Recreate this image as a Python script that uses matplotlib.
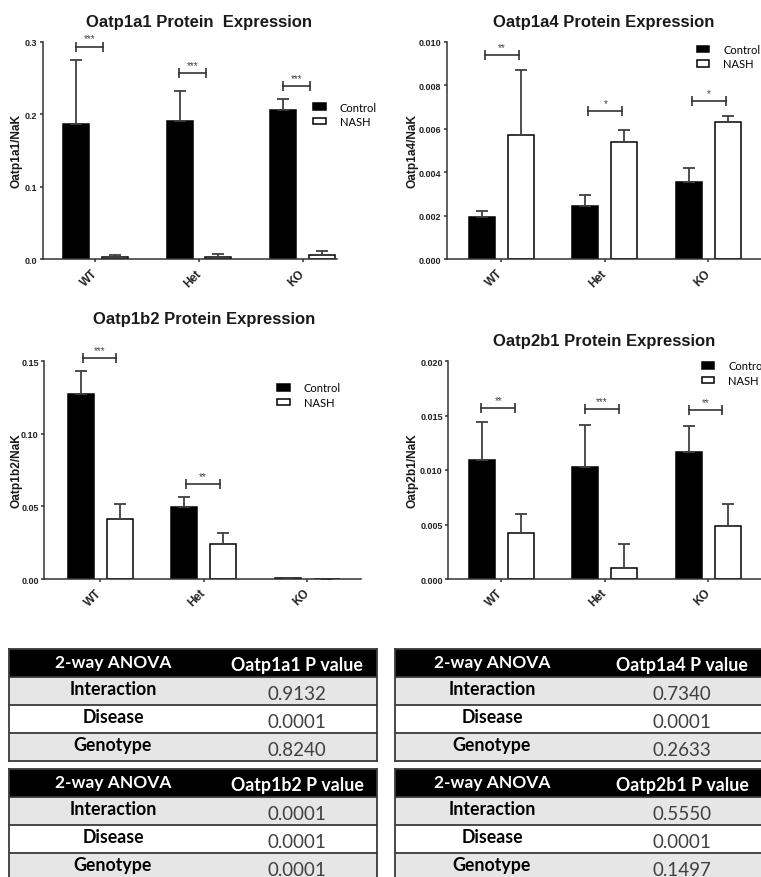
import numpy as np
import matplotlib.pyplot as plt
from matplotlib.patches import Patch
from matplotlib.ticker import FormatStrFormatter

plt.rcParams['font.family'] = ['Liberation Sans', 'DejaVu Sans']

groups = ["WT", "Het", "KO"]

# Oatp1a1 / NaK
oatp1a1_ctrl = [0.186, 0.190, 0.2055]
oatp1a1_ctrl_err = [0.089, 0.042, 0.015]
oatp1a1_nash = [0.0028, 0.0028, 0.0055]
oatp1a1_nash_err = [0.0035, 0.004, 0.0055]
oatp1a1_sig = ["***", "***", "***"]
oatp1a1_sig_y = [0.293, 0.2566, 0.2386]

# Oatp1a4 / NaK
oatp1a4_ctrl = [0.00193, 0.00247, 0.00357]
oatp1a4_ctrl_err = [0.00029, 0.00049, 0.00061]
oatp1a4_nash = [0.00571, 0.00538, 0.00629]
oatp1a4_nash_err = [0.00299, 0.00058, 0.00031]
oatp1a4_sig = ["**", "*", "*"]
oatp1a4_sig_y = [0.00939, 0.0068, 0.00726]

# Oatp1b2 / NaK
oatp1b2_ctrl = [0.127, 0.0498, 0.0006]
oatp1b2_ctrl_err = [0.0159, 0.0069, 0.0]
oatp1b2_nash = [0.0415, 0.0239, 0.0002]
oatp1b2_nash_err = [0.0099, 0.0080, 0.0]
oatp1b2_sig = ["***", "**", None]
oatp1b2_sig_y = [0.1519, 0.0652, None]

# Oatp2b1 / NaK
oatp2b1_ctrl = [0.01095, 0.0103, 0.01168]
oatp2b1_ctrl_err = [0.00345, 0.00383, 0.00239]
oatp2b1_nash = [0.00419, 0.00104, 0.00489]
oatp2b1_nash_err = [0.00174, 0.00217, 0.00196]
oatp2b1_sig = ["**", "***", "**"]
oatp2b1_sig_y = [0.01566, 0.0156, 0.0155]

# two-way ANOVA results
anova_rows = ["Interaction", "Disease", "Genotype"]
oatp1a1_p = ["0.9132", "0.0001", "0.8240"]
oatp1a4_p = ["0.7340", "0.0001", "0.2633"]
oatp1b2_p = ["0.0001", "0.0001", "0.0001"]
oatp2b1_p = ["0.5550", "0.0001", "0.1497"]

W, H = 761, 878
fig = plt.figure(figsize=(W / 100, H / 100), dpi=100)

DARK = "#333333"


def px_axes(left, top, right, bottom):
    return fig.add_axes([left / W, 1 - bottom / H, (right - left) / W, (bottom - top) / H])


def bar_panel(box, xlim, ymax, yticks, fmt, ctrl, ctrl_err, nash, nash_err,
              title, title_pos, ylabel, ylabel_x, sig, sig_y, span, legend_pos):
    ax = px_axes(*box)
    x = np.arange(len(groups))
    off, bw = 0.1875, 0.25
    ekw = dict(ecolor="#404040", elinewidth=1.3, capthick=1.3)
    ax.bar(x - off, ctrl, bw, color="black", edgecolor="black", linewidth=1.1,
           yerr=[np.zeros(3), ctrl_err], capsize=4.5, error_kw=ekw, zorder=2)
    ax.bar(x + off, nash, bw, color="white", edgecolor="black", linewidth=1.1,
           yerr=[np.zeros(3), nash_err], capsize=4.5, error_kw=ekw, zorder=2)

    ax.set_xlim(*xlim)
    ax.set_ylim(0, ymax)
    ax.set_yticks(yticks)
    ax.yaxis.set_major_formatter(FormatStrFormatter(fmt))
    ax.set_xticks(x)
    ax.set_xticklabels(groups, rotation=45, ha="right", va="center",
                       rotation_mode="anchor", fontsize=8.5, fontweight="bold", color="#222")
    ax.tick_params(axis="x", length=2.5, width=1.1, color=DARK, pad=6)
    ax.tick_params(axis="y", length=2.5, width=1.1, color=DARK, pad=1.5,
                   labelsize=6.5, labelcolor="#222")
    for lab in ax.get_yticklabels():
        lab.set_fontweight("bold")
    for s in ("top", "right"):
        ax.spines[s].set_visible(False)
    for s in ("left", "bottom"):
        ax.spines[s].set_color(DARK)
        ax.spines[s].set_linewidth(1.1)
    ax.patch.set_alpha(0)

    # significance brackets
    for xi, star, yy in zip(x, sig, sig_y):
        if star is None:
            continue
        x1, x2 = xi + span[0], xi + span[1]
        ax.plot([x1, x2], [yy, yy], color=DARK, lw=1.2, clip_on=False)
        ax.plot([x1, x2], [yy, yy], ls="none", marker="|", ms=6.5, mew=1.2,
                color=DARK, clip_on=False)
        ax.annotate(star, ((x1 + x2) / 2, yy), xytext=(0, 6), textcoords="offset points",
                    ha="center", va="center", fontsize=7, color="#444",
                    annotation_clip=False)

    fig.text(title_pos[0] / W, 1 - title_pos[1] / H, title, ha="center", va="baseline",
             fontsize=12, fontweight="bold", color="#1a1a1a")
    fig.text(ylabel_x / W, 1 - (box[1] + box[3]) / 2 / H, ylabel, rotation=90,
             ha="center", va="center", fontsize=8.6, fontweight="bold", color="#1a1a1a")

    handles = [Patch(facecolor="black", edgecolor="black", lw=1.1),
               Patch(facecolor="white", edgecolor="black", lw=1.1)]
    ax.legend(handles, ["Control", "NASH"], loc="upper left",
              bbox_to_anchor=(legend_pos[0] / W, 1 - legend_pos[1] / H),
              bbox_transform=fig.transFigure, frameon=False, borderpad=0,
              borderaxespad=0, handlelength=1.15, handleheight=0.5,
              handletextpad=1.25, labelspacing=0.3,
              prop={"family": "Lato", "size": 8})
    return ax


bar_panel((42.7, 42.7, 337, 260.3), (-0.51, 2.333), 0.3, [0, 0.1, 0.2, 0.3], "%.1f",
          oatp1a1_ctrl, oatp1a1_ctrl_err, oatp1a1_nash, oatp1a1_nash_err,
          "Oatp1a1 Protein  Expression", (199, 27.3), "Oatp1a1/NaK", 16.7,
          oatp1a1_sig, oatp1a1_sig_y, (-0.19, 0.07), (313, 102.5))

bar_panel((446.7, 42.7, 761, 260.3), (-0.526, 2.508), 0.010,
          [0, 0.002, 0.004, 0.006, 0.008, 0.010], "%.3f",
          oatp1a4_ctrl, oatp1a4_ctrl_err, oatp1a4_nash, oatp1a4_nash_err,
          "Oatp1a4 Protein Expression", (604, 26.7), "Oatp1a4/NaK", 412.3,
          oatp1a4_sig, oatp1a4_sig_y, (-0.16, 0.17), (696.7, 45))

bar_panel((44.3, 362, 361, 580), (-0.54, 2.52), 0.15, [0, 0.05, 0.10, 0.15], "%.2f",
          oatp1b2_ctrl, oatp1b2_ctrl_err, oatp1b2_nash, oatp1b2_nash_err,
          "Oatp1b2 Protein Expression", (203.8, 324), "Oatp1b2/NaK", 16.7,
          oatp1b2_sig, oatp1b2_sig_y, (-0.17, 0.155), (277, 383.5))

bar_panel((448.3, 362, 761, 580), (-0.51, 2.508), 0.020,
          [0, 0.005, 0.010, 0.015, 0.020], "%.3f",
          oatp2b1_ctrl, oatp2b1_ctrl_err, oatp2b1_nash, oatp2b1_nash_err,
          "Oatp2b1 Protein Expression", (604.5, 345.7), "Oatp2b1/NaK", 412.3,
          oatp2b1_sig, oatp2b1_sig_y, (-0.19, 0.135), (701.7, 361.5))


ROW_H = 28
LINE = "#3a3a3a"


def anova_table(left, top, width, split, p_values, name):
    ax = fig.add_axes([left / W, 1 - (top + ROW_H * 4) / H, width / W, ROW_H * 4 / H])
    ax.set_xlim(0, width)
    ax.set_ylim(4, 0)
    ax.axhspan(0, 1, color="black", lw=0)
    fills = ["#e7e6e6", "white", "#e7e6e6"]
    for i, (label, p) in enumerate(zip(anova_rows, p_values)):
        ax.axhspan(i + 1, i + 2, color=fills[i], lw=0)
        ax.axhline(i + 1, color=LINE, lw=1.3)
        ax.text(split / 2, i + 1.42, label, ha="center", va="center",
                family="Lato", fontweight="bold", fontsize=12.8, color="black")
        ax.text((split + width) / 2, i + 1.6, p, ha="center", va="center",
                family="Lato", fontsize=13.5, color="#404040")
    ax.text(split / 2, 0.48, "2-way ANOVA", ha="center", va="center",
            family="Lato", fontweight="bold", fontsize=12.5, color="white")
    ax.text((split + width) / 2, 0.55, name + " P value", ha="center", va="center",
            family="Lato", fontweight="bold", fontsize=12.8, color="white")
    ax.set_xticks([])
    ax.set_yticks([])
    for s in ax.spines.values():
        s.set_color(LINE)
        s.set_linewidth(1.3)


anova_table(9, 650, 368, 208, oatp1a1_p, "Oatp1a1")
anova_table(9, 770, 368, 208, oatp1b2_p, "Oatp1b2")
anova_table(395, 650, 380, 194, oatp1a4_p, "Oatp1a4")
anova_table(395, 770, 380, 194, oatp2b1_p, "Oatp2b1")

fig.savefig("out.png", dpi=100)
